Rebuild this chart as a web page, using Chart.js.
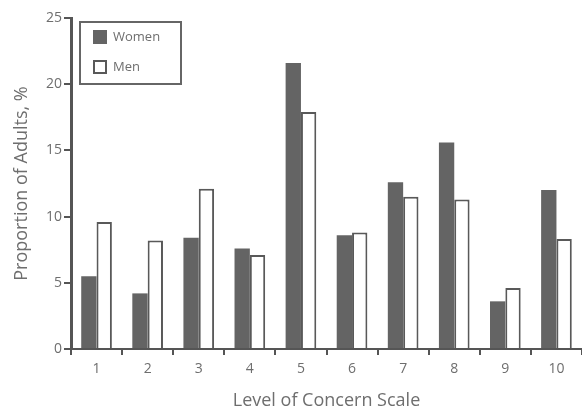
<!DOCTYPE html>
<html>
<head>
<meta charset="utf-8">
<script src="https://cdn.jsdelivr.net/npm/chart.js@4/dist/chart.umd.min.js"></script>
<style>
  html, body { margin: 0; padding: 0; background: #fff; }
  #wrap { width: 582px; height: 412px; }
</style>
</head>
<body>
<div id="wrap"><canvas id="c" width="582" height="412"></canvas></div>
<script>
const categories = ['1', '2', '3', '4', '5', '6', '7', '8', '9', '10'];
const women = [5.5, 4.2, 8.4, 7.6, 21.6, 8.6, 12.6, 15.6, 3.6, 12.0];
const men = [9.6, 8.2, 12.1, 7.1, 17.9, 8.8, 11.5, 11.3, 4.6, 8.3];
const yTicks = [0, 5, 10, 15, 20, 25];

const FONT = "'Open Sans', 'Noto Sans', sans-serif";
const AXIS = '#555555';
const TEXT = '#6e6e6e';

// Boxed legend drawn in the upper-left corner of the plot area
const boxedLegend = {
  id: 'boxedLegend',
  afterDraw(chart) {
    const ctx = chart.ctx;
    const x0 = 80, y0 = 22, w = 101, h = 62;
    ctx.save();
    ctx.strokeStyle = '#666666';
    ctx.lineWidth = 2;
    ctx.strokeRect(x0, y0, w, h);
    ctx.font = '13px ' + FONT;
    ctx.textBaseline = 'middle';
    chart.data.datasets.forEach((ds, i) => {
      const cy = y0 + 15 + i * 30;
      ctx.fillStyle = ds.backgroundColor;
      ctx.fillRect(x0 + 14, cy - 6, 12, 12);
      ctx.strokeStyle = ds.borderColor;
      ctx.lineWidth = 2;
      ctx.strokeRect(x0 + 14, cy - 6, 12, 12);
      ctx.fillStyle = TEXT;
      ctx.fillText(ds.label, x0 + 33, cy);
    });
    ctx.restore();
  }
};

new Chart(document.getElementById('c'), {
  type: 'bar',
  data: {
    labels: categories,
    datasets: [
      { label: 'Women', data: women, backgroundColor: '#646464', borderColor: '#646464', borderWidth: 0 },
      { label: 'Men', data: men, backgroundColor: '#ffffff', borderColor: '#595959', borderWidth: 2 }
    ]
  },
  options: {
    responsive: false,
    animation: false,
    layout: { padding: { top: 18, right: 0, left: 0, bottom: 0 } },
    datasets: { bar: { categoryPercentage: 0.6, barPercentage: 1.0, borderSkipped: 'bottom' } },
    plugins: { legend: { display: false }, tooltip: { enabled: false } },
    scales: {
      x: {
        offset: true,
        afterFit: s => { s.height = 63; },
        grid: { offset: true, drawOnChartArea: false, drawTicks: true, tickLength: 6, color: AXIS, lineWidth: 2 },
        border: { color: AXIS, width: 2 },
        ticks: { color: TEXT, font: { family: FONT, size: 14 }, padding: 6 },
        title: { display: true, text: 'Level of Concern Scale', color: TEXT, font: { family: FONT, size: 18 }, padding: { top: 0, bottom: 0 } }
      },
      y: {
        min: 0, max: 25,
        afterFit: s => { s.width = 71; },
        afterBuildTicks: s => { s.ticks = yTicks.map(v => ({ value: v })); },
        grid: { drawOnChartArea: false, drawTicks: true, tickLength: 7, color: AXIS, lineWidth: 2 },
        border: { color: AXIS, width: 3 },
        ticks: { color: TEXT, font: { family: FONT, size: 14 }, padding: 2 },
        title: { display: true, text: 'Proportion of Adults, %', color: TEXT, font: { family: FONT, size: 18 }, padding: { top: 11, bottom: 0 } }
      }
    }
  },
  plugins: [boxedLegend]
});
</script>
</body>
</html>
